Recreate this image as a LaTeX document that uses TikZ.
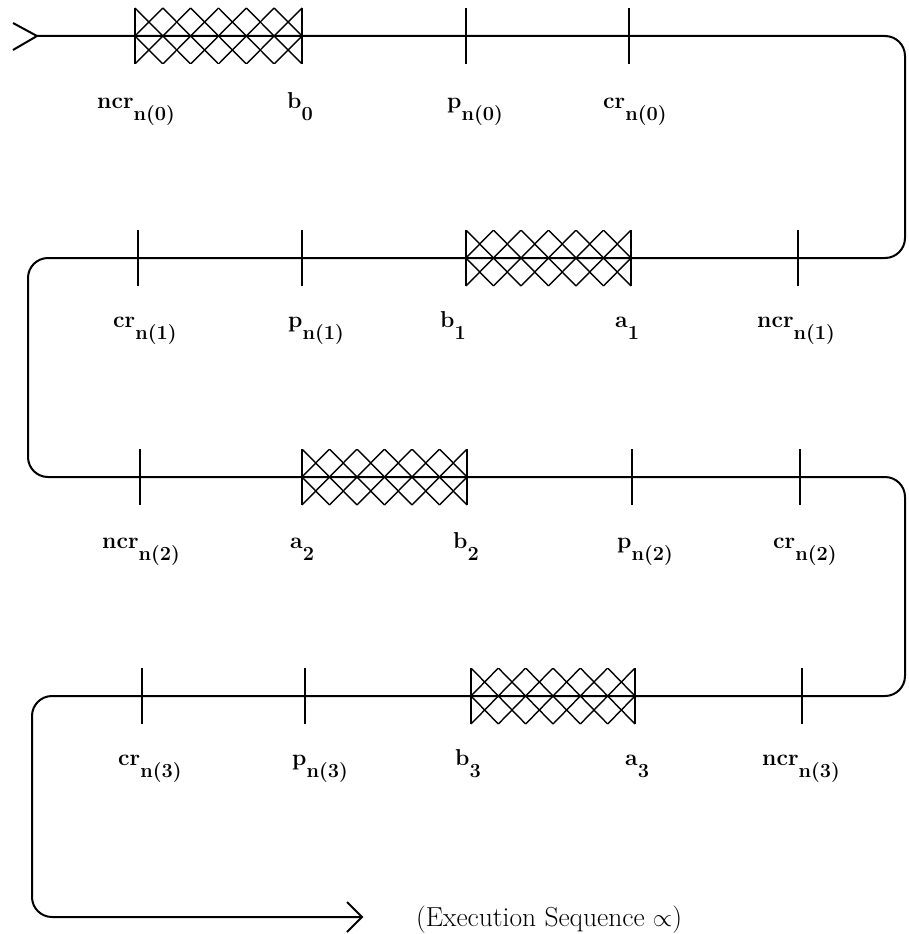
\documentclass[tikz,border=0pt]{standalone}
\usepackage{tikz}
\begin{document}
\newcommand{\lab}[2]{#1\raisebox{-12pt}{\fontsize{20}{22}\selectfont #2}}
\newcommand{\xhatch}[3]{%
  \begin{scope}
    \clip (#1,#3-28) rectangle (#2,#3+28);
    \pgfmathsetmacro\dd{(#2-#1)/6}
    \foreach \k in {-2,...,8}{%
      \draw[hatchline] (#1+\k*\dd,#3-28) -- ++(2*\dd,56);
      \draw[hatchline] (#1+\k*\dd,#3-28) -- ++(-2*\dd,56);}
  \end{scope}
  \draw[hatchline] (#1,#3-28) -- (#1,#3+28) (#2,#3-28) -- (#2,#3+28);
}
\newcommand{\tk}[2]{\draw[tickmark] (#1,#2-28) -- (#1,#2+28);}
\begin{tikzpicture}[x=1pt,y=-1pt,
  seq/.style={line width=2pt, rounded corners=20pt},
  tickmark/.style={line width=1.8pt},
  hatchline/.style={line width=1.4pt},
  lbl/.style={anchor=base west, inner sep=0pt, font=\fontsize{23}{26}\selectfont\bfseries},
  captext/.style={anchor=base west, inner sep=0pt, font=\fontsize{27.5}{30}\selectfont}]
\fill[white] (0,0) rectangle (909,934);
\useasboundingbox (0,0) rectangle (909,934);
% path corners
\coordinate (start) at (37,36);
\coordinate (c1) at (905,36);
\coordinate (c2) at (905,258);
\coordinate (c3) at (28,258);
\coordinate (c4) at (28,477);
\coordinate (c5) at (905,477);
\coordinate (c6) at (905,696);
\coordinate (c7) at (32,696);
\coordinate (c8) at (32,917);
\coordinate (end) at (362,917);
% hatched intervals
\xhatch{135}{302}{36}
\xhatch{466}{631}{258}
\xhatch{302}{467}{477}
\xhatch{471}{635}{696}
% main sequence line
\draw[seq] (start) -- (c1) -- (c2) -- (c3) -- (c4) -- (c5) -- (c6) -- (c7) -- (c8) -- (end);
\draw[seq, rounded corners=0pt] (start) ++(-24,-13) -- (start) -- ++(-24,14);
\draw[seq, rounded corners=0pt] (end) ++(-15,-15) -- (end) -- ++(-15,15);
% ticks
\tk{466}{36} \tk{629}{36}
\tk{138}{258} \tk{302}{258} \tk{798}{258}
\tk{140}{477} \tk{632}{477} \tk{800}{477}
\tk{142}{696} \tk{305}{696} \tk{802}{696}
% labels row 1
\node[lbl] (l01) at (97,108) {\lab{ncr}{n(0)}};
\node[lbl] (l02) at (287,108) {\lab{b}{0}};
\node[lbl] (l03) at (447,108) {\lab{p}{n(0)}};
\node[lbl] (l04) at (603,108) {\lab{cr}{n(0)}};
% row 2
\node[lbl] (l11) at (113,327) {\lab{cr}{n(1)}};
\node[lbl] (l12) at (288,327) {\lab{p}{n(1)}};
\node[lbl] (l13) at (440,327) {\lab{b}{1}};
\node[lbl] (l14) at (615,327) {\lab{a}{1}};
\node[lbl] (l15) at (757,327) {\lab{ncr}{n(1)}};
% row 3
\node[lbl] (l21) at (102,548) {\lab{ncr}{n(2)}};
\node[lbl] (l22) at (290,548) {\lab{a}{2}};
\node[lbl] (l23) at (453,548) {\lab{b}{2}};
\node[lbl] (l24) at (617,548) {\lab{p}{n(2)}};
\node[lbl] (l25) at (773,548) {\lab{cr}{n(2)}};
% row 4
\node[lbl] (l31) at (118,765) {\lab{cr}{n(3)}};
\node[lbl] (l32) at (292,765) {\lab{p}{n(3)}};
\node[lbl] (l33) at (455,765) {\lab{b}{3}};
\node[lbl] (l34) at (625,765) {\lab{a}{3}};
\node[lbl] (l35) at (762,765) {\lab{ncr}{n(3)}};
% caption
\node[captext] (capt) at (416,926) {(Execution Sequence $\propto$)};
\end{tikzpicture}
\end{document}
